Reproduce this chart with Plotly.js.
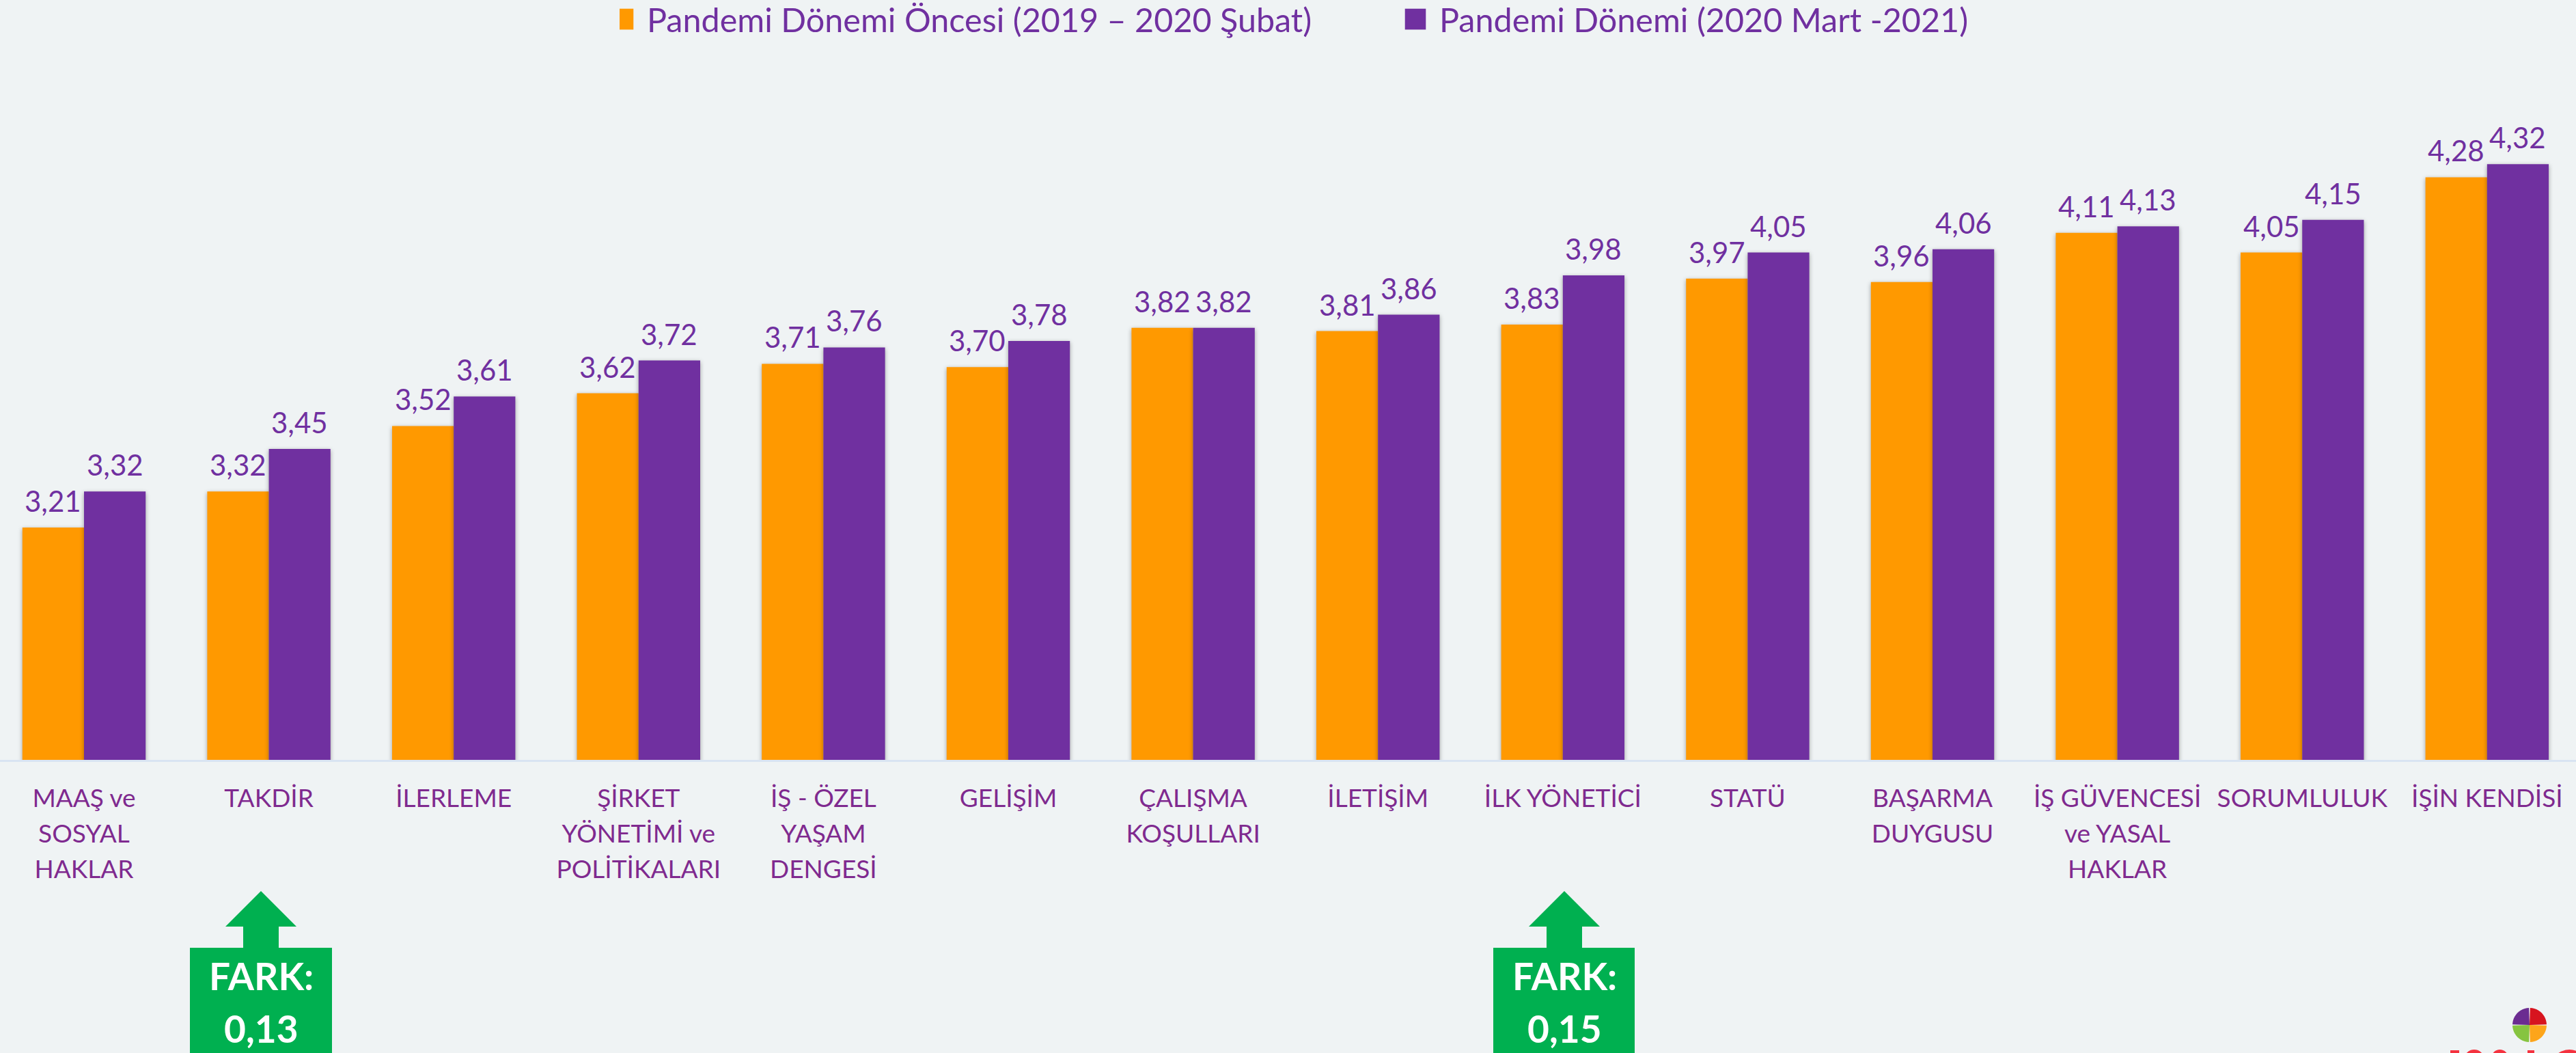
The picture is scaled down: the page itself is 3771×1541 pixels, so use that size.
<!DOCTYPE html>
<html><head><meta charset="utf-8">
<script src="https://cdn.plot.ly/plotly-3.0.1.min.js"></script>
<style>html,body{margin:0;padding:0;background:#EFF3F4;overflow:hidden}
.bars .point path{filter:drop-shadow(0 2px 3px rgba(0,0,0,.35))}</style>
</head><body><div id="chart" style="width:3771px;height:1541px"></div>
<script>
const categories=["MAAŞ ve<br>SOSYAL<br>HAKLAR","TAKDİR","İLERLEME","ŞİRKET<br>YÖNETİMİ ve<br>POLİTİKALARI","İŞ - ÖZEL<br>YAŞAM<br>DENGESİ","GELİŞİM","ÇALIŞMA<br>KOŞULLARI","İLETİŞİM","İLK YÖNETİCİ","STATÜ","BAŞARMA<br>DUYGUSU","İŞ GÜVENCESİ<br>ve YASAL<br>HAKLAR","SORUMLULUK","İŞİN KENDİSİ"];
const seriesBefore=[3.21,3.32,3.52,3.62,3.71,3.70,3.82,3.81,3.83,3.97,3.96,4.11,4.05,4.28];
const seriesDuring=[3.32,3.45,3.61,3.72,3.76,3.78,3.82,3.86,3.98,4.05,4.06,4.13,4.15,4.32];
const nameBefore="Pandemi Dönemi Öncesi (2019 – 2020 Şubat)";
const nameDuring="Pandemi Dönemi (2020 Mart -2021)";
const W=3771,H=1541;
const px=x=>x/W, py=y=>1-y/H;
const fmt=v=>v.toFixed(2).replace('.',',');
const idx=categories.map((_,i)=>i);
const bar=(name,y,color)=>({type:'bar',name,x:idx,y,marker:{color},hoverinfo:'skip'});
const valueLabels=(ys,off)=>ys.map((v,i)=>({x:i+off,y:v,xref:'x',yref:'y',text:fmt(v),showarrow:false,xanchor:'center',yanchor:'bottom',yshift:12,font:{family:'Lato',size:42,color:'#7030A0'}}));
const path=(d,color)=>({type:'path',xref:'paper',yref:'paper',path:d,fillcolor:color,line:{width:0},layer:'above'});
const poly=pts=>'M'+pts.map(p=>px(p[0])+','+py(p[1])).join('L')+'Z';
function arrow(cx,box0,box1){return [
  path(poly([[box0,1387],[box1,1387],[box1,1541],[box0,1541]]),'#00B050'),
  path(poly([[cx-26,1390],[cx-26,1356],[cx-52,1356],[cx,1304],[cx+52,1356],[cx+26,1356],[cx+26,1390]]),'#00B050')];}
function wedge(cx,cy,r,a0,a1,color){const p=[[cx,cy]];for(let k=0;k<=12;k++){const a=(a0+(a1-a0)*k/12)*Math.PI/180;p.push([cx+r*Math.cos(a),cy+r*Math.sin(a)]);}return path(poly(p),color);}
const logo=[wedge(3703,1500,25,182,268,'#6B2C91'),wedge(3703,1500,25,272,358,'#D7141F'),wedge(3703,1500,25,92,178,'#86C440'),wedge(3703,1500,25,2,88,'#FDA51A')];
const red='#F4333F';
const oval=(x0,x1)=>({type:'circle',xref:'paper',yref:'paper',x0:px(x0),x1:px(x1),y0:py(1536),y1:py(1536+(x1-x0)),fillcolor:red,line:{width:0},layer:'above'});
const brandMarks=[path(poly([[3587,1537],[3600,1537],[3600,1541],[3587,1541]]),red),oval(3607,3637),oval(3647,3672),path(poly([[3700,1537],[3710,1537],[3710,1541],[3700,1541]]),red),oval(3733,3790)];
const fark=(x,t,y)=>({xref:'paper',yref:'paper',x:px(x),y:py(y),text:t,showarrow:false,xanchor:'center',yanchor:'middle',font:{family:'Lato',size:55,color:'#FFFFFF',weight:700}});
const layout={width:W,height:H,margin:{l:0,r:0,t:0,b:0},paper_bgcolor:'#EFF3F4',plot_bgcolor:'#EFF3F4',
  barmode:'group',bargap:0.3333,bargroupgap:0,showlegend:true,
  legend:{orientation:'h',x:px(907),y:1,xanchor:'left',yanchor:'top',font:{family:'Lato',size:48.5,color:'#7030A0'},bgcolor:'rgba(0,0,0,0)',entrywidth:1115,entrywidthmode:'pixels',traceorder:'normal'},
  xaxis:{range:[-0.4545,13.481],tickmode:'array',tickvals:idx,ticktext:categories,ticks:'',showgrid:false,zeroline:false,showline:true,linecolor:'#D9E4F2',linewidth:3,tickangle:0,ticklabelstandoff:22,
    tickfont:{family:'Lato',size:37,color:'#7F2A8F'},automargin:false,fixedrange:true},
  yaxis:{domain:[py(1112),1],range:[2.5,2.5+1112/479],visible:false,fixedrange:true},
  shapes:[...arrow(382,278,486),...arrow(2290,2186,2393),...logo,...brandMarks],
  annotations:[...valueLabels(seriesBefore,-1/6),...valueLabels(seriesDuring,1/6),fark(382,'FARK:',1428),fark(382,'0,13',1505),fark(2290,'FARK:',1428),fark(2290,'0,15',1505)]};
Plotly.newPlot('chart',[bar(nameBefore,seriesBefore,'#FF9900'),bar(nameDuring,seriesDuring,'#7030A0')],layout,{displayModeBar:false,staticPlot:true}).then(()=>{
  document.querySelectorAll('.legendpoints path').forEach(p=>p.setAttribute('transform','translate(5,0) scale(2.55)'));
  document.querySelectorAll('.xtick text').forEach(t=>t.querySelectorAll('tspan.line').forEach((s,n)=>s.setAttribute('dy',(n*52)+'px')));
  const lg=document.querySelector('g.legend');
  const m=/translate\(([-\d.]+),\s*([-\d.]+)\)/.exec(lg.getAttribute('transform'));
  if(m) lg.setAttribute('transform','translate('+m[1]+','+(parseFloat(m[2])-10)+')');
});
</script></body></html>
